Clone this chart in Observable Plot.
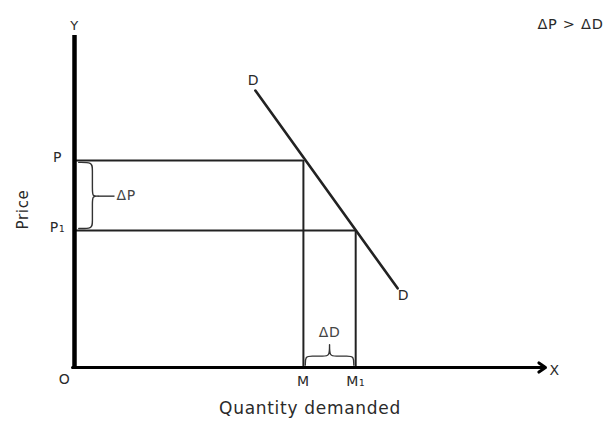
<!DOCTYPE html>
<html>
<head>
<meta charset="utf-8">
<script src="https://cdn.jsdelivr.net/npm/d3@7"></script>
<script src="https://cdn.jsdelivr.net/npm/@observablehq/plot@0.6"></script>
<style>
  html, body { margin: 0; padding: 0; background: #fff; }
  #chart { width: 609px; height: 421px; }
</style>
</head>
<body>
<div id="chart"></div>
<script>
// ---- data ----
const quantityLevels = [{label: "M", q: 48.6}, {label: "M₁", q: 59.7}];
const priceLevels = [{label: "P", p: 62.0}, {label: "P₁", p: 41.0}];
const demandCurve = [{q: 38.4, p: 82.9}, {q: 68.6, p: 23.7}];
const intersections = [{q: 48.6, p: 62.0}, {q: 59.7, p: 41.0}];
const axisLabels = {x: "X", y: "Y", origin: "O"};
const titles = {x: "Quantity demanded", y: "Price", note: "ΔP > ΔD"};
const priceTitleAt = 47.3; // vertical position of the "Price" title, in price units

const P = priceLevels[0].p, P1 = priceLevels[1].p;
const M = quantityLevels[0].q, M1 = quantityLevels[1].q;

// brace control polygons (style offsets in data units, anchored to data values)
function vBrace(yTop, yBot, x0, xm, xt, r, mid) {
  const A = {q: x0, p: yTop}, E = {q: x0, p: yBot}, T = {q: xt, p: mid};
  return [A, A, A, {q: xm, p: yTop}, {q: xm, p: yTop - r}, {q: xm, p: mid + r}, {q: xm, p: mid},
          T, T, T, {q: xm, p: mid}, {q: xm, p: mid - r}, {q: xm, p: yBot + r}, {q: xm, p: yBot}, E, E, E];
}
function hBrace(xL, xR, y0, ym, yt, r) {
  const mid = (xL + xR) / 2;
  const A = {q: xL, p: y0}, E = {q: xR, p: y0}, T = {q: mid, p: yt};
  return [A, A, A, {q: xL, p: ym}, {q: xL + r, p: ym}, {q: mid - r, p: ym}, {q: mid, p: ym},
          T, T, T, {q: mid, p: ym}, {q: mid + r, p: ym}, {q: xR - r, p: ym}, {q: xR, p: ym}, E, E, E];
}
const pMid = (P + P1) / 2 - 0.2;
const bracePrice = vBrace(P - 0.6, P1 + 0.6, 0.9, 3.8, 5.0, 1.8, pMid);
const braceQty = hBrace(M + 0.4, M1 - 0.4, 0.7, 3.4, 6.8, 1.3);

const font = "DejaVu Sans";
const ink = "#222";
const txt = "#2a2a2a";

const chart = Plot.plot({
  width: 609,
  height: 421,
  marginLeft: 74,
  marginRight: 64,
  marginTop: 33,
  marginBottom: 54,
  x: {domain: [0, 100], axis: null},
  y: {domain: [0, 100], axis: null},
  style: {fontFamily: font, background: "#fff", letterSpacing: "0.7px"},
  marks: [
    // guide lines
    Plot.ruleY(intersections, {y: "p", x1: 0, x2: "q", stroke: ink, strokeWidth: 2}),
    Plot.ruleX(intersections, {x: "q", y1: 0, y2: "p", stroke: ink, strokeWidth: 2}),
    // demand curve
    Plot.line(demandCurve, {x: "q", y: "p", stroke: ink, strokeWidth: 2.6}),
    // braces
    Plot.line(bracePrice, {x: "q", y: "p", curve: "basis", stroke: "#333", strokeWidth: 1.4}),
    Plot.line(braceQty, {x: "q", y: "p", curve: "basis", stroke: "#333", strokeWidth: 1.4}),
    Plot.ruleY([pMid], {x1: 5.0, x2: 8.6, stroke: "#333", strokeWidth: 1.4}),
    // axes
    Plot.ruleX([0], {y1: 0, y2: 100, stroke: "#000", strokeWidth: 4.5, insetBottom: -2}),
    Plot.arrow([{x1: 0, y1: 0, x2: 100, y2: 0}], {x1: "x1", y1: "y1", x2: "x2", y2: "y2",
      stroke: "#000", strokeWidth: 3, headLength: 4, headAngle: 70, insetEnd: 0, insetStart: -2}),
    // labels
    Plot.text(priceLevels, {x: 0, y: "p", text: "label", dx: -17, dy: -3, fontSize: 14, fill: txt, textAnchor: "middle"}),
    Plot.text(quantityLevels, {x: "q", y: 0, text: "label", dy: 14, fontSize: 14, fill: txt, textAnchor: "middle"}),
    Plot.text([demandCurve[0]], {x: "q", y: "p", text: () => "D", dx: -2, dy: -10, fontSize: 14, fill: txt}),
    Plot.text([demandCurve[1]], {x: "q", y: "p", text: () => "D", dx: 6, dy: 7, fontSize: 14, fill: txt}),
    Plot.text([axisLabels.origin], {x: 0, y: 0, text: d => d, dx: -10, dy: 12, fontSize: 14, fill: txt}),
    Plot.text([axisLabels.x], {x: 100, y: 0, text: d => d, dx: 4, dy: 3, fontSize: 14, fill: txt, textAnchor: "start"}),
    Plot.text([axisLabels.y], {x: 0, y: 100, text: d => d, dx: 0, dy: -8, fontSize: 13, fill: txt}),
    Plot.text(["ΔP"], {x: 8.9, y: pMid, text: d => d, dy: -1, fontSize: 14, fill: "#444", textAnchor: "start"}),
    Plot.text(["ΔD"], {x: (M + M1) / 2, y: 10.5, text: d => d, fontSize: 14, fill: "#444", textAnchor: "middle"}),
    Plot.text([titles.y], {x: 0, y: priceTitleAt, text: d => d, dx: -51, rotate: -90, fontSize: 15, fill: txt}),
    Plot.text([titles.x], {frameAnchor: "bottom", text: d => d, dy: 46, fontSize: 17, fill: txt}),
    Plot.text([titles.note], {frameAnchor: "top-right", text: d => d, dx: -8, dy: -15, fontSize: 14.5, fill: txt, textAnchor: "start"})
  ]
});
document.getElementById("chart").appendChild(chart);
</script>
</body>
</html>
